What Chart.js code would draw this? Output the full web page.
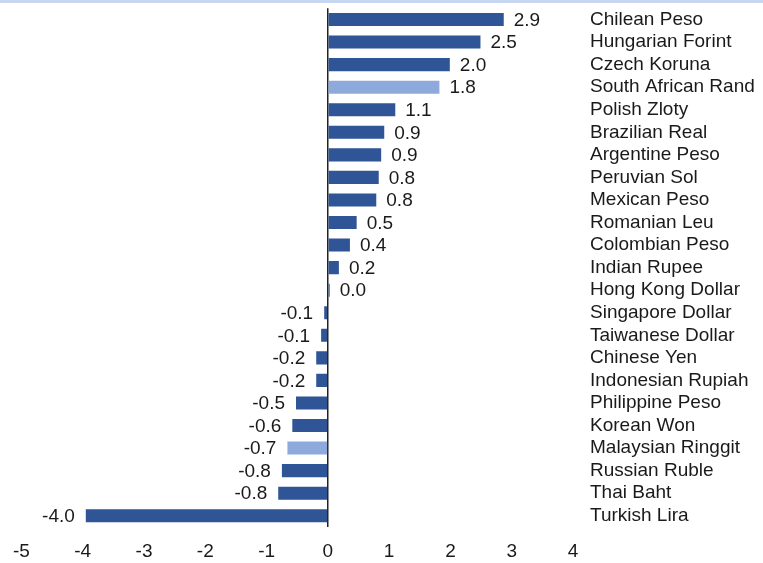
<!DOCTYPE html>
<html>
<head>
<meta charset="utf-8">
<script src="https://cdn.jsdelivr.net/npm/chart.js@4.4.1/dist/chart.umd.min.js"></script>
<style>
  body { margin: 0; background: #fff; }
  #wrap { width: 763px; height: 563px; box-sizing: border-box; border-top: 3px solid #c8d7f1; }
</style>
</head>
<body>
<div id="wrap"><canvas id="barChart" width="763" height="560"></canvas></div>
<script>
const currencies = ['Chilean Peso', 'Hungarian Forint', 'Czech Koruna', 'South African Rand', 'Polish Zloty',
  'Brazilian Real', 'Argentine Peso', 'Peruvian Sol', 'Mexican Peso', 'Romanian Leu', 'Colombian Peso',
  'Indian Rupee', 'Hong Kong Dollar', 'Singapore Dollar', 'Taiwanese Dollar', 'Chinese Yen',
  'Indonesian Rupiah', 'Philippine Peso', 'Korean Won', 'Malaysian Ringgit', 'Russian Ruble',
  'Thai Baht', 'Turkish Lira']
const changes = [2.87, 2.49, 1.99, 1.82, 1.1, 0.92, 0.87, 0.83, 0.79, 0.47, 0.36, 0.18, 0.03,
  -0.06, -0.11, -0.19, -0.19, -0.52, -0.58, -0.66, -0.75, -0.81, -3.95]
const highlighted = ['South African Rand', 'Malaysian Ringgit']

const dark = '#2f5597'
const light = '#8eaadc'
const font = { family: "'Liberation Sans', Arial, sans-serif", size: 19 }

// value labels next to each bar
const valueLabels = {
  id: 'valueLabels',
  afterDatasetsDraw(chart) {
    const ctx = chart.ctx
    const meta = chart.getDatasetMeta(0)
    ctx.save()
    ctx.font = font.size + 'px ' + font.family
    ctx.fillStyle = '#1a1a1a'
    ctx.textBaseline = 'middle'
    meta.data.forEach((bar, i) => {
      const v = changes[i]
      const txt = v.toFixed(1)
      if (v >= 0) {
        ctx.textAlign = 'left'
        ctx.fillText(txt, bar.x + 10, bar.y + 1)
      } else {
        ctx.textAlign = 'right'
        ctx.fillText(txt, bar.x - 11, bar.y + 1)
      }
    })
    ctx.restore()
  }
}

const data = {
  labels: currencies,
  datasets: [{
    data: changes,
    backgroundColor: currencies.map(c => highlighted.includes(c) ? light : dark),
    categoryPercentage: 1,
    barPercentage: 0.58
  }]
}

const config = {
  type: 'bar',
  data: data,
  options: {
    indexAxis: 'y',
    responsive: false,
    animation: false,
    layout: { padding: { left: 18, top: 0, bottom: 0, right: 0 } },
    plugins: { legend: { display: false }, tooltip: { enabled: false } },
    scales: {
      x: {
        min: -5,
        max: 4,
        afterFit: s => { s.height = 36 },
        ticks: { stepSize: 1, color: '#1a1a1a', font: font, padding: 13 },
        grid: {
          drawTicks: false,
          lineWidth: 1.5,
          color: c => c.tick && c.tick.value === 0 ? '#222' : 'rgba(0,0,0,0)'
        },
        border: { display: false }
      },
      y: {
        position: 'right',
        afterFit: s => { s.width = 190 },
        ticks: { color: '#1a1a1a', font: { ...font, lineHeight: 0.55 }, padding: 0, autoSkip: false },
        grid: { display: false, drawTicks: true, tickLength: 17 },
        border: { display: false }
      }
    }
  },
  plugins: [valueLabels]
}

const myChart = new Chart(document.getElementById('barChart'), config)
</script>
</body>
</html>
